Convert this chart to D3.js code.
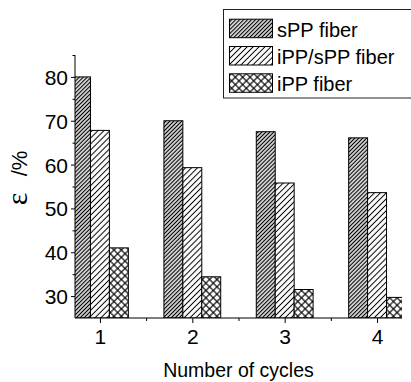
<!DOCTYPE html>
<html>
<head>
<meta charset="utf-8">
<script src="https://cdn.jsdelivr.net/npm/d3@7"></script>
<style>
  html, body { margin: 0; padding: 0; background: #fff; }
  svg text { font-family: "Liberation Sans", Arial, sans-serif; fill: #000; }
</style>
</head>
<body>
<svg id="chart" width="411" height="382"></svg>
<script>
// Elongation after repeated cycles, three fibre types
const cycles = [1, 2, 3, 4];
const seriesNames = ["sPP fiber", "iPP/sPP fiber", "iPP fiber"];
const sPP = [80.0, 70.0, 67.5, 66.1];
const iPPsPP = [67.8, 59.3, 55.8, 53.6];
const iPP = [41.0, 34.4, 31.5, 29.7];
const yTicks = [30, 40, 50, 60, 70, 80];
const yMinorTicks = [35, 45, 55, 65, 75, 85];
const xMinorTicks = [1.5, 2.5, 3.5];

const series = [sPP, iPPsPP, iPP];
const patternIds = ["hatchDense", "hatchWide", "crossHatch"];

const svg = d3.select("#chart");
const plotLeft = 75, plotRight = 402, plotTop = 55, plotBottom = 318;

const x = d3.scaleLinear().domain([0.73, 4.27]).range([plotLeft, plotRight]);
const y = d3.scaleLinear().domain([25, 85]).range([plotBottom, plotTop]);
const barW = 0.205; // bar width in cycle units

// Fill patterns
const defs = svg.append("defs");
function linePattern(id, period, sw, cross) {
  const p = defs.append("pattern")
    .attr("id", id)
    .attr("patternUnits", "userSpaceOnUse")
    .attr("width", period).attr("height", period)
    .attr("patternTransform", "rotate(45)");
  p.append("rect").attr("width", period).attr("height", period).attr("fill", "#fff");
  p.append("line").attr("x1", period / 2).attr("x2", period / 2)
    .attr("y1", 0).attr("y2", period)
    .attr("stroke", "#000").attr("stroke-width", sw);
  if (cross) {
    p.append("line").attr("y1", period / 2).attr("y2", period / 2)
      .attr("x1", 0).attr("x2", period)
      .attr("stroke", "#000").attr("stroke-width", sw);
  }
}
linePattern("hatchDense", 2.8, 1.3, false);
linePattern("hatchWide", 4.2, 1.0, false);
linePattern("crossHatch", 5.2, 1.15, true);

defs.append("clipPath").attr("id", "plotClip")
  .append("rect").attr("x", plotLeft).attr("y", plotTop - 5)
  .attr("width", plotRight - plotLeft).attr("height", plotBottom - plotTop + 5);

// Bars
const barsG = svg.append("g").attr("clip-path", "url(#plotClip)");
series.forEach((vals, si) => {
  barsG.selectAll(null)
    .data(cycles.map((c, i) => ({ c, v: vals[i] })))
    .enter().append("rect")
    .attr("x", d => x(d.c + (si - 1.5) * barW))
    .attr("width", d => x(d.c + (si - 0.5) * barW) - x(d.c + (si - 1.5) * barW))
    .attr("y", d => y(d.v))
    .attr("height", d => y(25) - y(d.v))
    .attr("fill", `url(#${patternIds[si]})`)
    .attr("stroke", "#000")
    .attr("stroke-width", 1);
});

// Y axis
const yAxis = svg.append("g").attr("transform", `translate(${plotLeft},0)`)
  .call(d3.axisLeft(y).tickValues(yTicks).tickSize(4).tickPadding(3).tickFormat(d3.format("d")));
yAxis.select(".domain").attr("d", `M0,${y(25)}V${y(85)}`);
yAxis.selectAll("text").style("font-size", "21px").attr("dy", "0.36em");
svg.append("g").attr("transform", `translate(${plotLeft},0)`)
  .call(d3.axisLeft(y).tickValues(yMinorTicks).tickSize(2.5).tickFormat(""))
  .select(".domain").remove();

// X axis
const xAxis = svg.append("g").attr("transform", `translate(0,${plotBottom})`)
  .call(d3.axisBottom(x).tickValues(cycles).tickSize(5).tickPadding(6).tickFormat(d3.format("d")));
xAxis.select(".domain").attr("d", `M${plotLeft},0H${plotRight}`);
xAxis.selectAll("text").style("font-size", "21px");
svg.append("g").attr("transform", `translate(0,${plotBottom})`)
  .call(d3.axisBottom(x).tickValues(xMinorTicks).tickSize(3).tickFormat(""))
  .select(".domain").remove();

// Axis titles
svg.append("text")
  .attr("x", (plotLeft + plotRight) / 2).attr("y", 377)
  .attr("text-anchor", "middle")
  .style("font-size", "19.5px")
  .text("Number of cycles");

svg.append("text")
  .attr("transform", "translate(27,199) rotate(-90)")
  .attr("text-anchor", "middle")
  .style("font-family", "'Liberation Serif', 'Times New Roman', serif")
  .style("font-size", "30px")
  .text("ε");
svg.append("text")
  .attr("transform", "translate(27,163.5) rotate(-90)")
  .attr("text-anchor", "middle")
  .style("font-size", "22px")
  .text("/%");

// Legend
const legend = svg.append("g");
legend.append("rect")
  .attr("x", 223.5).attr("y", 9.5).attr("width", 200).attr("height", 88.5)
  .attr("fill", "#fff").attr("stroke", "#222").attr("stroke-width", 1);
seriesNames.forEach((name, i) => {
  const cy = 28.7 + i * 27.3;
  legend.append("rect")
    .attr("x", 229.5).attr("y", cy - 9.5).attr("width", 43).attr("height", 18.5)
    .attr("fill", `url(#${patternIds[i]})`).attr("stroke", "#000").attr("stroke-width", 1);
  legend.append("text")
    .attr("x", 277).attr("y", cy + 8)
    .style("font-size", "20px")
    .text(name);
});
</script>
</body>
</html>
